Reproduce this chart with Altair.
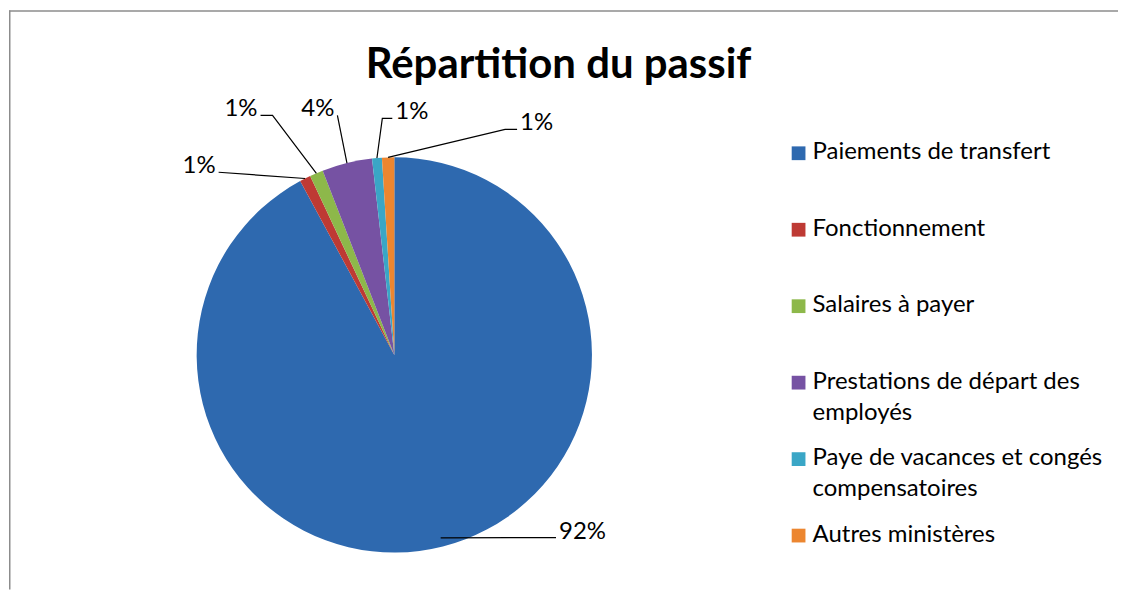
import altair as alt
import numpy as np
import pandas as pd

# ---------------- data ----------------
categories = [
    "Paiements de transfert",
    "Fonctionnement",
    "Salaires à payer",
    "Prestations de départ des employés",
    "Paye de vacances et congés compensatoires",
    "Autres ministères",
]
legend_text = [
    "Paiements de transfert",
    "Fonctionnement",
    "Salaires à payer",
    "Prestations de départ des\nemployés",
    "Paye de vacances et congés\ncompensatoires",
    "Autres ministères",
]
values = [92.1, 0.9, 1.1, 4.1, 0.8, 1.0]
pct_labels = ["92%", "1%", "1%", "4%", "1%", "1%"]
title_text = "Répartition du passif"

# ---------------- style / layout ----------------
colors = ["#2E69AF", "#BE3A34", "#8DB84A", "#7652A3", "#3AA6C6", "#EC8630"]
W, H = 1111, 582
CX, CY, R = 386, 347, 198
FONT = "Lato"
# leader-line start radius factor, bends and ends (chart pixels) + label side
leader_start_r = [0.955, 1, 1, 1, 1, 1]
leader_bends = [[], [], [(264, 107)], [], [(374, 110)], [(497, 121)]]
leader_ends = [(548, 530), (210, 164), (252, 107), (329, 107), (384, 110), (509, 121)]
label_side = ["left", "right", "right", "right", "left", "left"]
legend_x_sym, legend_x_txt = 791, 805
legend_range = [132, 132 + 5 * 76.6]

# ---------------- tables ----------------
df = pd.DataFrame({
    "cat": categories,
    "value": values,
    "order": list(range(len(categories))),
    "legend": legend_text,
    "pct": pct_labels,
})

vals = np.array(values, dtype=float)
mid = (np.cumsum(vals) - vals / 2) / vals.sum() * 2 * np.pi
rr = R * np.array(leader_start_r)
sx = CX + rr * np.sin(mid)
sy = CY - rr * np.cos(mid)

line_rows, lab_rows = [], []
for i, c in enumerate(categories):
    pts = [(sx[i], sy[i])] + leader_bends[i] + [leader_ends[i]]
    for k, (px, py) in enumerate(pts):
        line_rows.append({"cat": c, "seq": k, "x": px, "y": py})
    ex, ey = leader_ends[i]
    lab_rows.append({
        "cat": c, "pct": pct_labels[i],
        "x": ex + (3 if label_side[i] == "left" else -3),
        "y": ey - 6, "side": label_side[i],
    })
lines_df = pd.DataFrame(line_rows)
labs_df = pd.DataFrame(lab_rows)

xs = alt.Scale(domain=[0, W], nice=False, zero=False)
ys = alt.Scale(domain=[0, H], nice=False, zero=False, reverse=True)
color = alt.Color("cat:N", scale=alt.Scale(domain=categories, range=colors), legend=None)

one = pd.DataFrame({"b": [0]})

border_top = alt.Chart(one).mark_rule(color="#8c8c8c", strokeWidth=1.5).encode(
    x=alt.value(0), x2=alt.value(W), y=alt.value(2.5))
border_left = alt.Chart(one).mark_rule(color="#8c8c8c", strokeWidth=1.5).encode(
    x=alt.value(0.75), y=alt.value(2), y2=alt.value(H))

title = alt.Chart(one).mark_text(
    font=FONT, fontSize=42, fontWeight="bold", color="black",
    align="center", baseline="alphabetic",
).encode(x=alt.value(W / 2 - 5), y=alt.value(70), text=alt.value(title_text))

pie = alt.Chart(df).mark_arc(radius=R).encode(
    theta=alt.Theta("value:Q", stack=True),
    order=alt.Order("order:Q"),
    color=color,
    x=alt.value(CX),
    y=alt.value(CY),
)

leaders = alt.Chart(lines_df).mark_line(color="black", strokeWidth=1.2).encode(
    x=alt.X("x:Q", scale=xs, axis=None),
    y=alt.Y("y:Q", scale=ys, axis=None),
    detail="cat:N",
    order="seq:Q",
)

lab_left = alt.Chart(labs_df).transform_filter(alt.datum.side == "left").mark_text(
    font=FONT, fontSize=24, color="black", align="left", baseline="middle"
).encode(
    x=alt.X("x:Q", scale=xs, axis=None),
    y=alt.Y("y:Q", scale=ys, axis=None),
    text="pct:N",
)
lab_right = alt.Chart(labs_df).transform_filter(alt.datum.side == "right").mark_text(
    font=FONT, fontSize=24, color="black", align="right", baseline="middle"
).encode(
    x=alt.X("x:Q", scale=xs, axis=None),
    y=alt.Y("y:Q", scale=ys, axis=None),
    text="pct:N",
)

ly = alt.Y("cat:N", sort=categories, axis=None,
           scale=alt.Scale(type="point", domain=categories, range=legend_range, padding=0))

leg_sym = alt.Chart(df).mark_square(size=190, opacity=1, yOffset=13).encode(
    x=alt.value(legend_x_sym), y=ly, color=color)
leg_txt = alt.Chart(df).mark_text(
    font=FONT, fontSize=24, color="black", align="left", baseline="top",
    lineBreak="\n", lineHeight=31,
).encode(x=alt.value(legend_x_txt), y=ly, text="legend:N")

chart = alt.layer(
    border_top, border_left, title, pie, leaders, lab_left, lab_right, leg_sym, leg_txt
).resolve_scale(y="independent").properties(
    width=W, height=H, padding=0, background="white"
).configure_view(stroke=None)

chart.save("out.html", embed_options={"renderer": "svg", "actions": False})
